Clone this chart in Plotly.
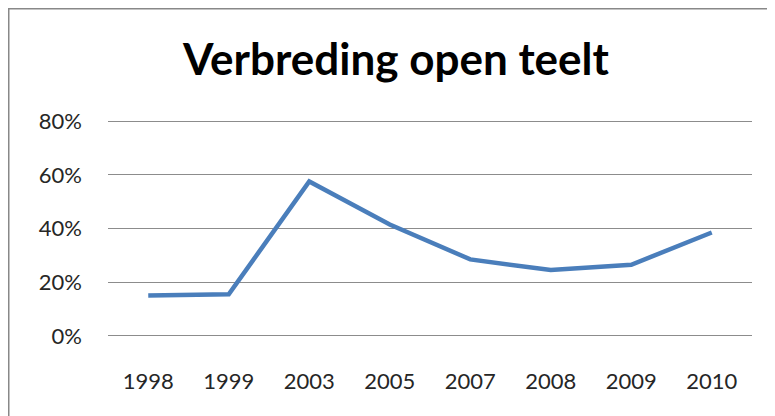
import plotly.graph_objects as go

# data
years = ["1998", "1999", "2003", "2005", "2007", "2008", "2009", "2010"]
share = [0.15, 0.155, 0.575, 0.415, 0.285, 0.245, 0.265, 0.385]

# page body adds an 8px offset, so the figure is 8px smaller than the window
W, H = 767, 408
# plot area in figure pixels (slightly padded so the 0% and 80% grid lines show)
left, right, top, bottom = 100, 744, 111, 330

def px_x(x):
    return (x - left) / (right - left)

def px_y(y):
    return (bottom - y) / (bottom - top)

fig = go.Figure()
fig.add_scatter(
    x=years,
    y=share,
    mode="lines",
    line=dict(color="#4A7EBB", width=4.5),
    hoverinfo="skip",
)

# chart frame: only its top and left edges show in the reference
fig.add_shape(
    type="rect",
    xref="paper", yref="paper",
    x0=px_x(0.5), x1=px_x(820),
    y0=px_y(440), y1=px_y(0.5),
    line=dict(color="#888888", width=2),
    layer="below",
)

tickfont = dict(family="Lato", size=22, color="#262626")

fig.update_layout(
    width=W,
    height=H,
    showlegend=False,
    plot_bgcolor="white",
    paper_bgcolor="white",
    margin=dict(l=left, r=W - right, t=top, b=H - bottom, pad=0),
    title=dict(
        text="<b>Verbreding open teelt</b>",
        font=dict(family="Lato", size=44, color="black"),
        x=388 / W,
        xanchor="center",
        xref="container",
        y=1 - 52 / H,
        yanchor="middle",
        yref="container",
    ),
    xaxis=dict(
        type="category",
        range=[-0.5, 7.5],
        showgrid=False,
        zeroline=False,
        showline=False,
        ticks="",
        tickfont=tickfont,
        ticklabelstandoff=28,
    ),
    yaxis=dict(
        range=[-0.008, 0.808],
        tickvals=[0, 0.2, 0.4, 0.6, 0.8],
        tickformat=".0%",
        showgrid=True,
        gridcolor="#8C8C8C",
        gridwidth=1.2,
        zeroline=False,
        showline=False,
        ticks="",
        tickfont=tickfont,
        ticklabelstandoff=25,
    ),
)

fig.write_html("out.html")
